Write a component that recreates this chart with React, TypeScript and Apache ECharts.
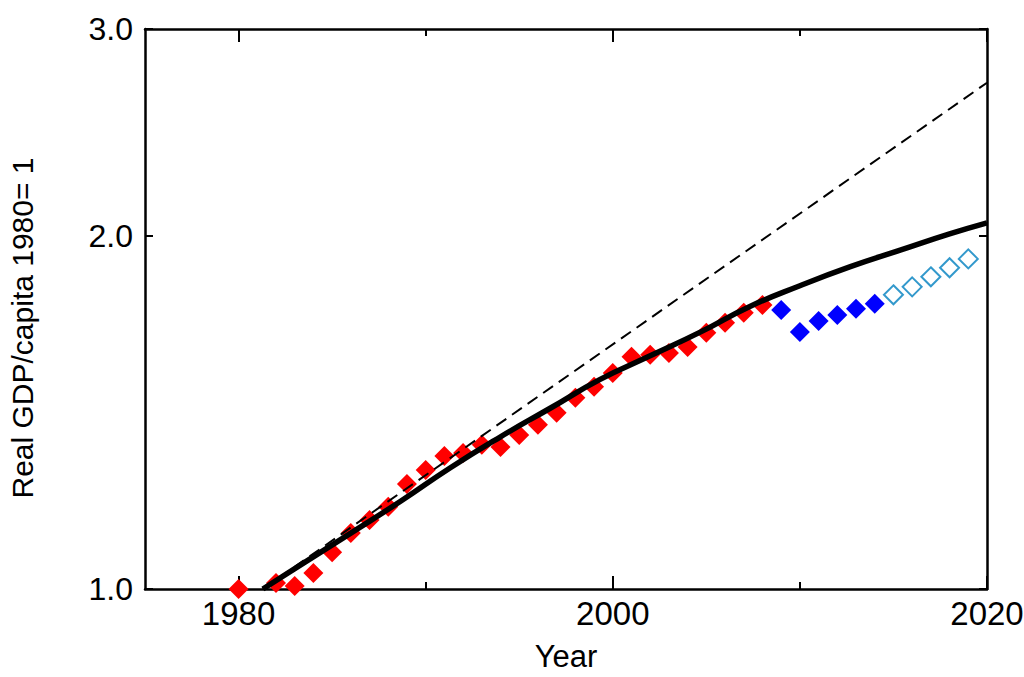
import React, { useEffect, useRef } from "react";
import * as echarts from "echarts";

// Observed data: real GDP per capita, 1980 = 1
const redYears = [1980, 1982, 1983, 1984, 1985, 1986, 1987, 1988, 1989, 1990, 1991, 1992, 1993, 1994, 1995, 1996, 1997, 1998, 1999, 2000, 2001, 2002, 2003, 2004, 2005, 2006, 2007, 2008];
const redValues = [1.0, 1.012, 1.006, 1.032, 1.075, 1.116, 1.145, 1.175, 1.229, 1.263, 1.298, 1.306, 1.327, 1.321, 1.353, 1.38, 1.413, 1.455, 1.487, 1.528, 1.577, 1.583, 1.589, 1.608, 1.653, 1.686, 1.719, 1.746];

const blueYears = [2009, 2010, 2011, 2012, 2013, 2014];
const blueValues = [1.729, 1.656, 1.692, 1.712, 1.733, 1.75];

const projYears = [2015, 2016, 2017, 2018, 2019];
const projValues = [1.781, 1.809, 1.845, 1.878, 1.911];

// Fitted curve (solid, thick)
const curveYears = [1981.3, 1983.3, 1986, 1988.7, 1991.3, 1994, 1996.7, 1999.3, 2002, 2004.7, 2007.3, 2010, 2012.7, 2015.4, 2018, 2020];
const curveValues = [1.0, 1.048, 1.116, 1.189, 1.268, 1.348, 1.427, 1.508, 1.58, 1.656, 1.74, 1.813, 1.882, 1.945, 2.007, 2.051];

// Exponential trend (dashed)
const dashYears = [1981.3, 2020];
const dashValues = [1.0, 2.7];

// Axis ticks / labels
const xLabelValues = [1980, 2000, 2020];
const xMajorTicks = [1980, 2000, 2020];
const xMinorTicks = [1990, 2010];
const yTickValues = [1, 2, 3];

const zip = (xs: number[], ys: number[]) => xs.map((x, i) => [x, ys[i]]);

const FONT = "Liberation Sans";

export default function App() {
  const ref = useRef<HTMLDivElement>(null);

  useEffect(() => {
    if (!ref.current) return;
    const chart = echarts.init(ref.current, undefined, { renderer: "svg" });
    const axisLine = { show: true, lineStyle: { color: "#000", width: 2.5 } };
    const baseX = { type: "value", min: 1975, max: 2020, splitLine: { show: false } };
    const baseY = { type: "log", logBase: 10, min: 1, max: 3, splitLine: { show: false } };

    chart.setOption({
      animation: false,
      backgroundColor: "#fff",
      grid: { left: 145, right: 37, top: 29, bottom: 88, containLabel: false, outerBoundsMode: "none" },
      xAxis: [
        {
          ...baseX,
          position: "bottom",
          axisLine,
          axisTick: { show: true, inside: true, length: 13, customValues: xMajorTicks, lineStyle: { color: "#000", width: 2 } },
          axisLabel: { show: true, customValues: xLabelValues, fontSize: 33, fontFamily: FONT, color: "#000", margin: 8, formatter: (v: number) => String(Math.round(v)) },
          name: "Year",
          nameLocation: "middle",
          nameGap: 52,
          nameTextStyle: { fontSize: 31, fontFamily: FONT, color: "#000" },
        },
        {
          ...baseX,
          position: "bottom",
          axisLine: { show: false },
          axisTick: { show: true, inside: true, length: 7, customValues: xMinorTicks, lineStyle: { color: "#000", width: 2 } },
          axisLabel: { show: false },
        },
        {
          ...baseX,
          position: "top",
          axisLine,
          axisTick: { show: true, inside: true, length: 13, customValues: xMajorTicks, lineStyle: { color: "#000", width: 2 } },
          axisLabel: { show: false },
        },
        {
          ...baseX,
          position: "top",
          axisLine: { show: false },
          axisTick: { show: true, inside: true, length: 7, customValues: xMinorTicks, lineStyle: { color: "#000", width: 2 } },
          axisLabel: { show: false },
        },
      ],
      yAxis: [
        {
          ...baseY,
          position: "left",
          axisLine,
          axisTick: { show: true, inside: true, length: 8, customValues: yTickValues, lineStyle: { color: "#000", width: 2 } },
          axisLabel: { show: true, customValues: yTickValues, fontSize: 32, fontFamily: FONT, color: "#000", margin: 12, formatter: (v: number) => Number(v).toFixed(1) },
        },
        {
          ...baseY,
          position: "right",
          axisLine,
          axisTick: { show: true, inside: true, length: 8, customValues: yTickValues, lineStyle: { color: "#000", width: 2 } },
          axisLabel: { show: false },
        },
      ],
      graphic: [
        {
          type: "text",
          x: 22,
          y: 328,
          rotation: Math.PI / 2,
          style: {
            text: "Real GDP/capita 1980= 1",
            fontSize: 30,
            fontFamily: FONT,
            fill: "#000",
            align: "center",
            verticalAlign: "middle",
          },
        },
      ],
      series: [
        {
          type: "scatter",
          xAxisIndex: 0,
          yAxisIndex: 0,
          symbol: "diamond",
          symbolSize: 20,
          itemStyle: { color: "#ff0000", opacity: 1 },
          data: zip(redYears, redValues),
        },
        {
          type: "scatter",
          xAxisIndex: 0,
          yAxisIndex: 0,
          symbol: "diamond",
          symbolSize: 20,
          itemStyle: { color: "#0000ff", opacity: 1 },
          data: zip(blueYears, blueValues),
        },
        {
          type: "scatter",
          xAxisIndex: 0,
          yAxisIndex: 0,
          symbol: "diamond",
          symbolSize: 19,
          itemStyle: { color: "#fff", borderColor: "#3399cc", borderWidth: 2, opacity: 1 },
          data: zip(projYears, projValues),
        },
        {
          type: "line",
          xAxisIndex: 0,
          yAxisIndex: 0,
          showSymbol: false,
          symbol: "none",
          lineStyle: { color: "#000", width: 2, type: [12, 7] },
          data: zip(dashYears, dashValues),
        },
        {
          type: "line",
          xAxisIndex: 0,
          yAxisIndex: 0,
          showSymbol: false,
          symbol: "none",
          smooth: true,
          lineStyle: { color: "#000", width: 5.5 },
          data: zip(curveYears, curveValues),
        },
      ],
    });
    return () => chart.dispose();
  }, []);

  return <div ref={ref} style={{ position: "absolute", left: 0, top: 0, width: 1024, height: 677 }} />;
}
